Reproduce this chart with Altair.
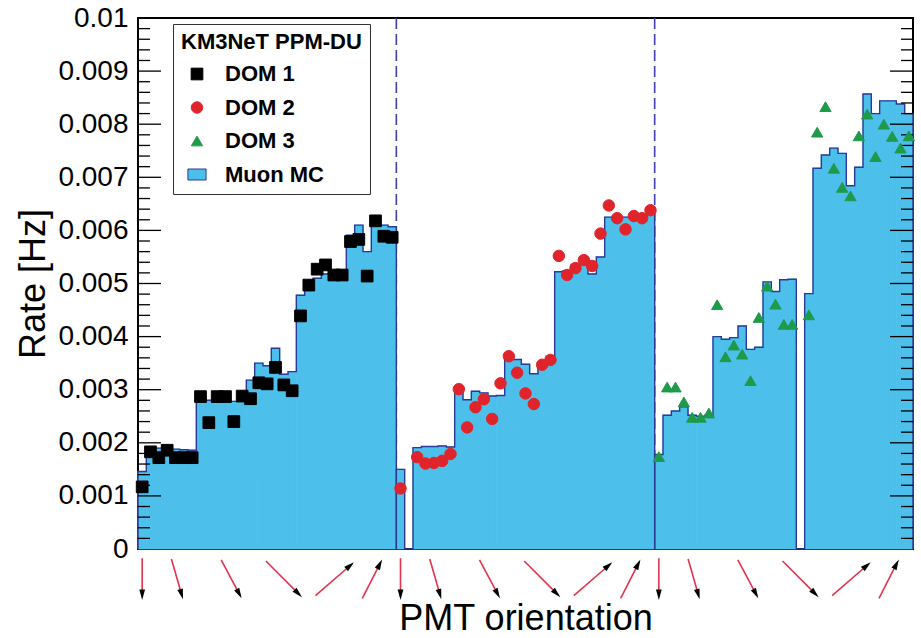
import altair as alt
import numpy as np
import pandas as pd

PMTS_PER_DOM = 31
N_DOMS = 3
N_BINS = PMTS_PER_DOM * N_DOMS

# Measured rates per PMT [Hz]; None = PMT without data
dom1_rate = [0.00117, 0.00183, 0.00172, 0.00186, 0.00172, 0.00172, 0.00172,
             0.00287, 0.00238, 0.00287, 0.00287, 0.00240, 0.00288,
             0.00283, 0.00313, 0.00311, 0.00342, 0.00309, 0.00298,
             0.00439, 0.00497, 0.00527, 0.00535, 0.00516, 0.00516,
             0.00579, 0.00583, 0.00514, 0.00618, 0.00589, 0.00587]
dom2_rate = [0.00114, None, 0.00173, 0.00161, 0.00162, 0.00166, 0.00179,
             0.00301, 0.00229, 0.00267, 0.00282, 0.00245, 0.00312,
             0.00363, 0.00332, 0.00293, 0.00273, 0.00347, 0.00356,
             0.00552, 0.00516, 0.00529, 0.00544, 0.00533, 0.00594,
             0.00647, 0.00623, 0.00602, 0.00627, 0.00623, 0.00638]
dom3_rate = [0.00174, 0.00305, 0.00305, 0.00277, 0.00248, 0.00248, 0.00256,
             0.00460, 0.00362, 0.00384, 0.00367, 0.00317, 0.00436,
             0.00495, 0.00461, 0.00423, 0.00423, None, 0.00441,
             0.00785, 0.00833, 0.00717, 0.00681, 0.00665, 0.00778,
             0.00819, 0.00739, 0.00800, 0.00777, 0.00755, 0.00778]

# Muon Monte Carlo expectation per PMT [Hz]
dom1_mc = [0.00146, 0.00190, 0.00190, 0.00189, 0.00188, 0.00187, 0.00186,
           0.00282, 0.00280, 0.00279, 0.00279, 0.00278, 0.00280,
           0.00318, 0.00350, 0.00345, 0.00378, 0.00329, 0.00334,
           0.00478, 0.00495, 0.00510, 0.00518, 0.00512, 0.00512,
           0.00591, 0.00610, 0.00560, 0.00627, 0.00610, 0.00607]
dom2_mc = [0.00150, None, 0.00191, 0.00193, 0.00193, 0.00194, 0.00192,
           0.00300, 0.00281, 0.00297, 0.00294, 0.00288, 0.00289,
           0.00367, 0.00357, 0.00348, 0.00330, 0.00348, 0.00363,
           0.00522, 0.00524, 0.00536, 0.00543, 0.00518, 0.00550,
           0.00625, 0.00625, 0.00625, 0.00625, 0.00627, 0.00632]
dom3_mc = [0.00178, 0.00252, 0.00260, 0.00268, 0.00252, 0.00250, 0.00252,
           0.00400, 0.00395, 0.00398, 0.00420, 0.00376, 0.00380,
           0.00503, 0.00485, 0.00507, 0.00508, None, 0.00481,
           0.00717, 0.00742, 0.00755, 0.00745, 0.00684, 0.00719,
           0.00857, 0.00820, 0.00844, 0.00844, 0.00838, 0.00820]

series_names = ["DOM 1", "DOM 2", "DOM 3", "Muon MC"]
y_ticks = [0, 0.001, 0.002, 0.003, 0.004, 0.005, 0.006, 0.007, 0.008, 0.009, 0.01]
y_minor = [round(i * 0.0002, 4) for i in range(51) if i % 5]

# PMT ring orientation (zenith angle, deg) and glyph position inside a DOM (bins)
ring_zenith = [180, 164, 152, 135, 49, 27]
ring_glyph_pos = [0.5, 4.7, 11.2, 17.5, 23.6, 28.1]

# ---- layout ----
W, H = 775, 531
PX_PER_BIN = W / N_BINS
BLUE = "#4cbfea"
NAVY = "#2b3a96"
DASH = "#3d3fb3"

rates = [dom1_rate, dom2_rate, dom3_rate]
mcs = [dom1_mc, dom2_mc, dom3_mc]

# points and histogram bins per PMT, plus a closed step outline per DOM
pts, hist, outline = [], [], []
for d in range(N_DOMS):
    start = d * PMTS_PER_DOM
    idx = 0
    outline.append({"dom": d, "i": idx, "x": start, "v": 0.0}); idx += 1
    for p in range(PMTS_PER_DOM):
        k = start + p
        r = rates[d][p]
        m = mcs[d][p]
        if r is not None:
            pts.append({"center": k + 0.5, "rate": r, "series": series_names[d]})
        if m is not None:
            hist.append({"left": k, "right": k + 1, "mc": m})
        mv = 0.0 if m is None else m
        outline.append({"dom": d, "i": idx, "x": k, "v": mv}); idx += 1
        outline.append({"dom": d, "i": idx, "x": k + 1, "v": mv}); idx += 1
    outline.append({"dom": d, "i": idx, "x": start + PMTS_PER_DOM, "v": 0.0})

pts_df = pd.DataFrame(pts)
hist_df = pd.DataFrame(hist)
outline_df = pd.DataFrame(outline)
sep_df = pd.DataFrame({"x": [PMTS_PER_DOM * d for d in range(1, N_DOMS)]})

# orientation arrows below the axis, in bin units
arrow_len = [5.0, 5.0, 5.2, 6.1, 6.1, 5.2]
arr = []
for d in range(N_DOMS):
    for r, th in enumerate(ring_zenith):
        t = np.radians(th)
        ux, uy = np.sin(t), np.cos(t)
        cx, cy = d * PMTS_PER_DOM + ring_glyph_pos[r], -3.6
        L = arrow_len[r]
        arr.append({
            "x0": cx - ux * L / 2, "y0": cy - uy * L / 2,
            "x1": cx + ux * (L / 2 - 0.4), "y1": cy + uy * (L / 2 - 0.4),
            "hx": cx + ux * (L / 2 - 0.6), "hy": cy + uy * (L / 2 - 0.6),
            "theta": float(th),
        })
arr_df = pd.DataFrame(arr)

xscale = alt.Scale(domain=[0, N_BINS], nice=False, zero=False)
yscale = alt.Scale(domain=[0, 0.01], nice=False, zero=False)

x_axis = alt.Axis(labels=False, ticks=False, domain=False, grid=False,
                  title="PMT orientation", titleFontSize=36, titleFontWeight="normal",
                  titlePadding=52, titleColor="black")
y_axis = alt.Axis(orient="left", values=y_ticks, ticks=False, domain=False, grid=False,
                  labelExpr="datum.value == 0 ? '0' : format(datum.value, '.3~f')",
                  labelFontSize=28, labelPadding=10, labelColor="black",
                  title="Rate [Hz]", titleFontSize=36, titleFontWeight="normal",
                  titlePadding=5, titleColor="black")

# histogram fill; a same-colour stroke closes the hairline seams between bins
fill = alt.Chart(hist_df).mark_rect(color=BLUE, stroke=BLUE, strokeWidth=0.8).encode(
    x=alt.X("left:Q", scale=xscale, axis=x_axis), x2="right:Q",
    y=alt.Y("mc:Q", scale=yscale, axis=y_axis), y2=alt.datum(0),
)

seps = alt.Chart(sep_df).mark_rule(color=DASH, strokeWidth=1.6, strokeDash=[11, 5]).encode(
    x=alt.X("x:Q", scale=xscale)
)

edge = alt.Chart(outline_df).mark_line(color=NAVY, strokeWidth=1.4, interpolate="linear").encode(
    x=alt.X("x:Q", scale=xscale), y=alt.Y("v:Q", scale=yscale),
    detail="dom:N", order="i:Q",
)

major_df = pd.DataFrame({"y": y_ticks[1:-1]})
minor_df = pd.DataFrame({"y": y_minor})

def tick_layer(df, x_from, x_to):
    return alt.Chart(df).mark_rule(color="black", strokeWidth=1.3).encode(
        y=alt.Y("y:Q", scale=yscale), x=alt.value(x_from), x2=alt.value(x_to)
    )

ticks = [tick_layer(major_df, 0, 23), tick_layer(minor_df, 0, 12),
         tick_layer(major_df, W - 23, W), tick_layer(minor_df, W - 12, W)]

mc_swatch = "M-1.65,-1H1.65V1H-1.65Z"
legend = alt.Legend(
    title="KM3NeT PPM-DU", orient="none", legendX=35, legendY=6,
    direction="vertical", padding=8, fillColor="white", strokeColor="#333333",
    titleFontSize=22, titleFontWeight="bold", titleColor="black", titlePadding=9,
    titleLimit=400, labelFontSize=22, labelFontWeight="bold", labelColor="black",
    labelLimit=400, labelOffset=17, symbolOffset=5, rowPadding=11.5,
    symbolStrokeWidth=1,
)
shape_sc = alt.Scale(domain=series_names, range=["square", "circle", "triangle-up", mc_swatch])
color_sc = alt.Scale(domain=series_names, range=["#000000", "#e0242b", "#1f9a4b", BLUE])
stroke_sc = alt.Scale(domain=series_names, range=["#000000", "#e0242b", "#1f9a4b", NAVY])
size_sc = alt.Scale(domain=series_names, range=[137, 121, 105, 529])

points = alt.Chart(pts_df).mark_point(filled=True, opacity=1, strokeWidth=1).encode(
    x=alt.X("center:Q", scale=xscale), y=alt.Y("rate:Q", scale=yscale),
    shape=alt.Shape("series:N", scale=shape_sc, legend=legend),
    color=alt.Color("series:N", scale=color_sc, legend=legend),
    stroke=alt.Stroke("series:N", scale=stroke_sc, legend=legend),
    size=alt.Size("series:N", scale=size_sc, legend=legend),
)

main = alt.layer(seps, fill, edge, *ticks, points)

# arrows: own y scale with the same pixels-per-unit as the bin axis
yarrow = alt.Scale(domain=[0, H / PX_PER_BIN], nice=False, zero=False)
shafts = alt.Chart(arr_df).mark_rule(color="#e2334f", strokeWidth=1.6).encode(
    x=alt.X("x0:Q", scale=xscale), x2="x1:Q",
    y=alt.Y("y0:Q", scale=yarrow, axis=None), y2="y1:Q",
)
heads = alt.Chart(arr_df).mark_point(filled=True, color="black", opacity=1,
                                     shape="M0,-1L0.55,1L-0.55,1Z", size=110).encode(
    x=alt.X("hx:Q", scale=xscale), y=alt.Y("hy:Q", scale=yarrow, axis=None),
    angle=alt.Angle("theta:Q", scale=None),
)
arrows = alt.layer(shafts, heads)

chart = alt.layer(main, arrows).resolve_scale(y="independent").properties(
    width=W, height=H,
    autosize=alt.AutoSizeParams(type="none"),
    padding={"left": 138, "top": 18, "right": 8, "bottom": 89},
    background="white",
).configure(font="Liberation Sans").configure_view(stroke="black", strokeWidth=2)

chart.save("out.html", embed_options={"renderer": "svg", "actions": False})
